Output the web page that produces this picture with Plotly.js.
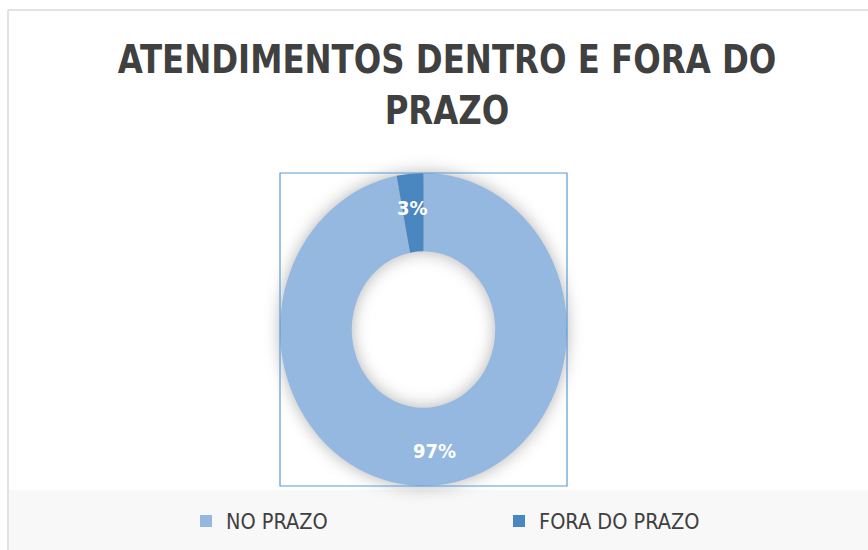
<!DOCTYPE html>
<html>
<head>
<meta charset="utf-8">
<script src="https://cdn.plot.ly/plotly-3.0.1.min.js"></script>
<style>
  html, body { margin: 0; padding: 0; background: #ffffff; }
  #chart { width: 868px; height: 550px; }
  #chart .pielayer { filter: drop-shadow(0px 0px 8px rgba(0,0,0,0.3)); transform-box: fill-box; transform-origin: center; }
  #chart .g-gtitle { transform-box: fill-box; transform-origin: center; }
</style>
</head>
<body>
<div id="chart"></div>
<script>
const categories = ["NO PRAZO", "FORA DO PRAZO"];
const values = [97, 3];
const colors = ["#95B8E0", "#4A86C0"];
const titleText = "ATENDIMENTOS DENTRO E FORA DO<br>PRAZO";

const W = 868, H = 550;
const px = v => v / W;
const py = v => 1 - v / H;
const FONT = "DejaVu Sans Condensed, Liberation Sans Narrow, Liberation Sans, sans-serif";

const pieDomain = { x: [px(280), px(567)], y: [py(486), py(173)] };
const HOLE = 0.5;

// geometry of the (slightly vertically stretched) ring, derived from the domain box
const total = values.reduce((a, b) => a + b, 0);
const boxW = (pieDomain.x[1] - pieDomain.x[0]) * W;
const boxH = (pieDomain.y[1] - pieDomain.y[0]) * H;
const cx = (pieDomain.x[0] + pieDomain.x[1]) / 2 * W;
const cy = (1 - (pieDomain.y[0] + pieDomain.y[1]) / 2) * H;
const Rx = Math.min(boxW, boxH) / 2;
const stretch = boxH / boxW;
const Ry = Rx * stretch;

let cum = 0;
const annotations = values.map((v, i) => {
  const mid = (cum + v / 2) / total * 2 * Math.PI;
  cum += v;
  const f = 0.78;
  return {
    xref: "paper", yref: "paper",
    x: (cx + f * Rx * Math.sin(mid)) / W,
    y: 1 - (cy - f * Ry * Math.cos(mid)) / H,
    xanchor: "center", yanchor: "middle",
    text: "<b>" + Math.round(v / total * 100) + "%</b>",
    showarrow: false,
    font: { family: FONT, size: 20, color: "#ffffff" }
  };
});

const data = [{
  type: "pie",
  labels: categories,
  values: values,
  hole: HOLE,
  sort: false,
  direction: "clockwise",
  rotation: 0,
  domain: pieDomain,
  marker: { colors: colors, line: { width: 0 } },
  textinfo: "none",
  hoverinfo: "label+percent"
}];

const layout = {
  width: W, height: H,
  margin: { l: 0, r: 0, t: 0, b: 0, autoexpand: false },
  paper_bgcolor: "#ffffff",
  showlegend: true,
  title: {
    text: titleText,
    font: { family: FONT, size: 36, color: "#404040", weight: "bold" },
    x: 0.515, xanchor: "center",
    yref: "container", y: py(74), yanchor: "top"
  },
  legend: {
    orientation: "h",
    x: px(186), xanchor: "left",
    y: py(521), yanchor: "middle",
    font: { family: FONT, size: 21.5, color: "#404040" },
    entrywidth: 268, entrywidthmode: "pixels",
    bgcolor: "rgba(0,0,0,0)"
  },
  annotations: annotations,
  shapes: [
    { type: "rect", xref: "paper", yref: "paper", layer: "below",
      x0: px(9), x1: 1, y0: 0, y1: py(490),
      fillcolor: "#f8f8f8", line: { width: 0 } },
    { type: "line", xref: "paper", yref: "paper", x0: px(8), x1: 1, y0: py(10), y1: py(10),
      line: { color: "#d9d9d9", width: 1.5 } },
    { type: "line", xref: "paper", yref: "paper", x0: px(8), x1: px(8), y0: py(10), y1: 0,
      line: { color: "#d9d9d9", width: 1.5 } },
    { type: "rect", xref: "paper", yref: "paper", layer: "above",
      x0: pieDomain.x[0], x1: pieDomain.x[1], y0: pieDomain.y[0], y1: pieDomain.y[1],
      line: { color: "#5B9BD5", width: 1.2 }, fillcolor: "rgba(0,0,0,0)" }
  ]
};

function applyStretch() {
  const pl = document.querySelector("#chart .pielayer");
  if (pl) pl.style.transform = "scaleY(" + stretch + ")";
  const tl = document.querySelector("#chart .g-gtitle");
  if (tl) tl.style.transform = "scaleY(1.1)";
}

Plotly.newPlot("chart", data, layout, { displayModeBar: false, staticPlot: true }).then(applyStretch);
</script>
</body>
</html>
